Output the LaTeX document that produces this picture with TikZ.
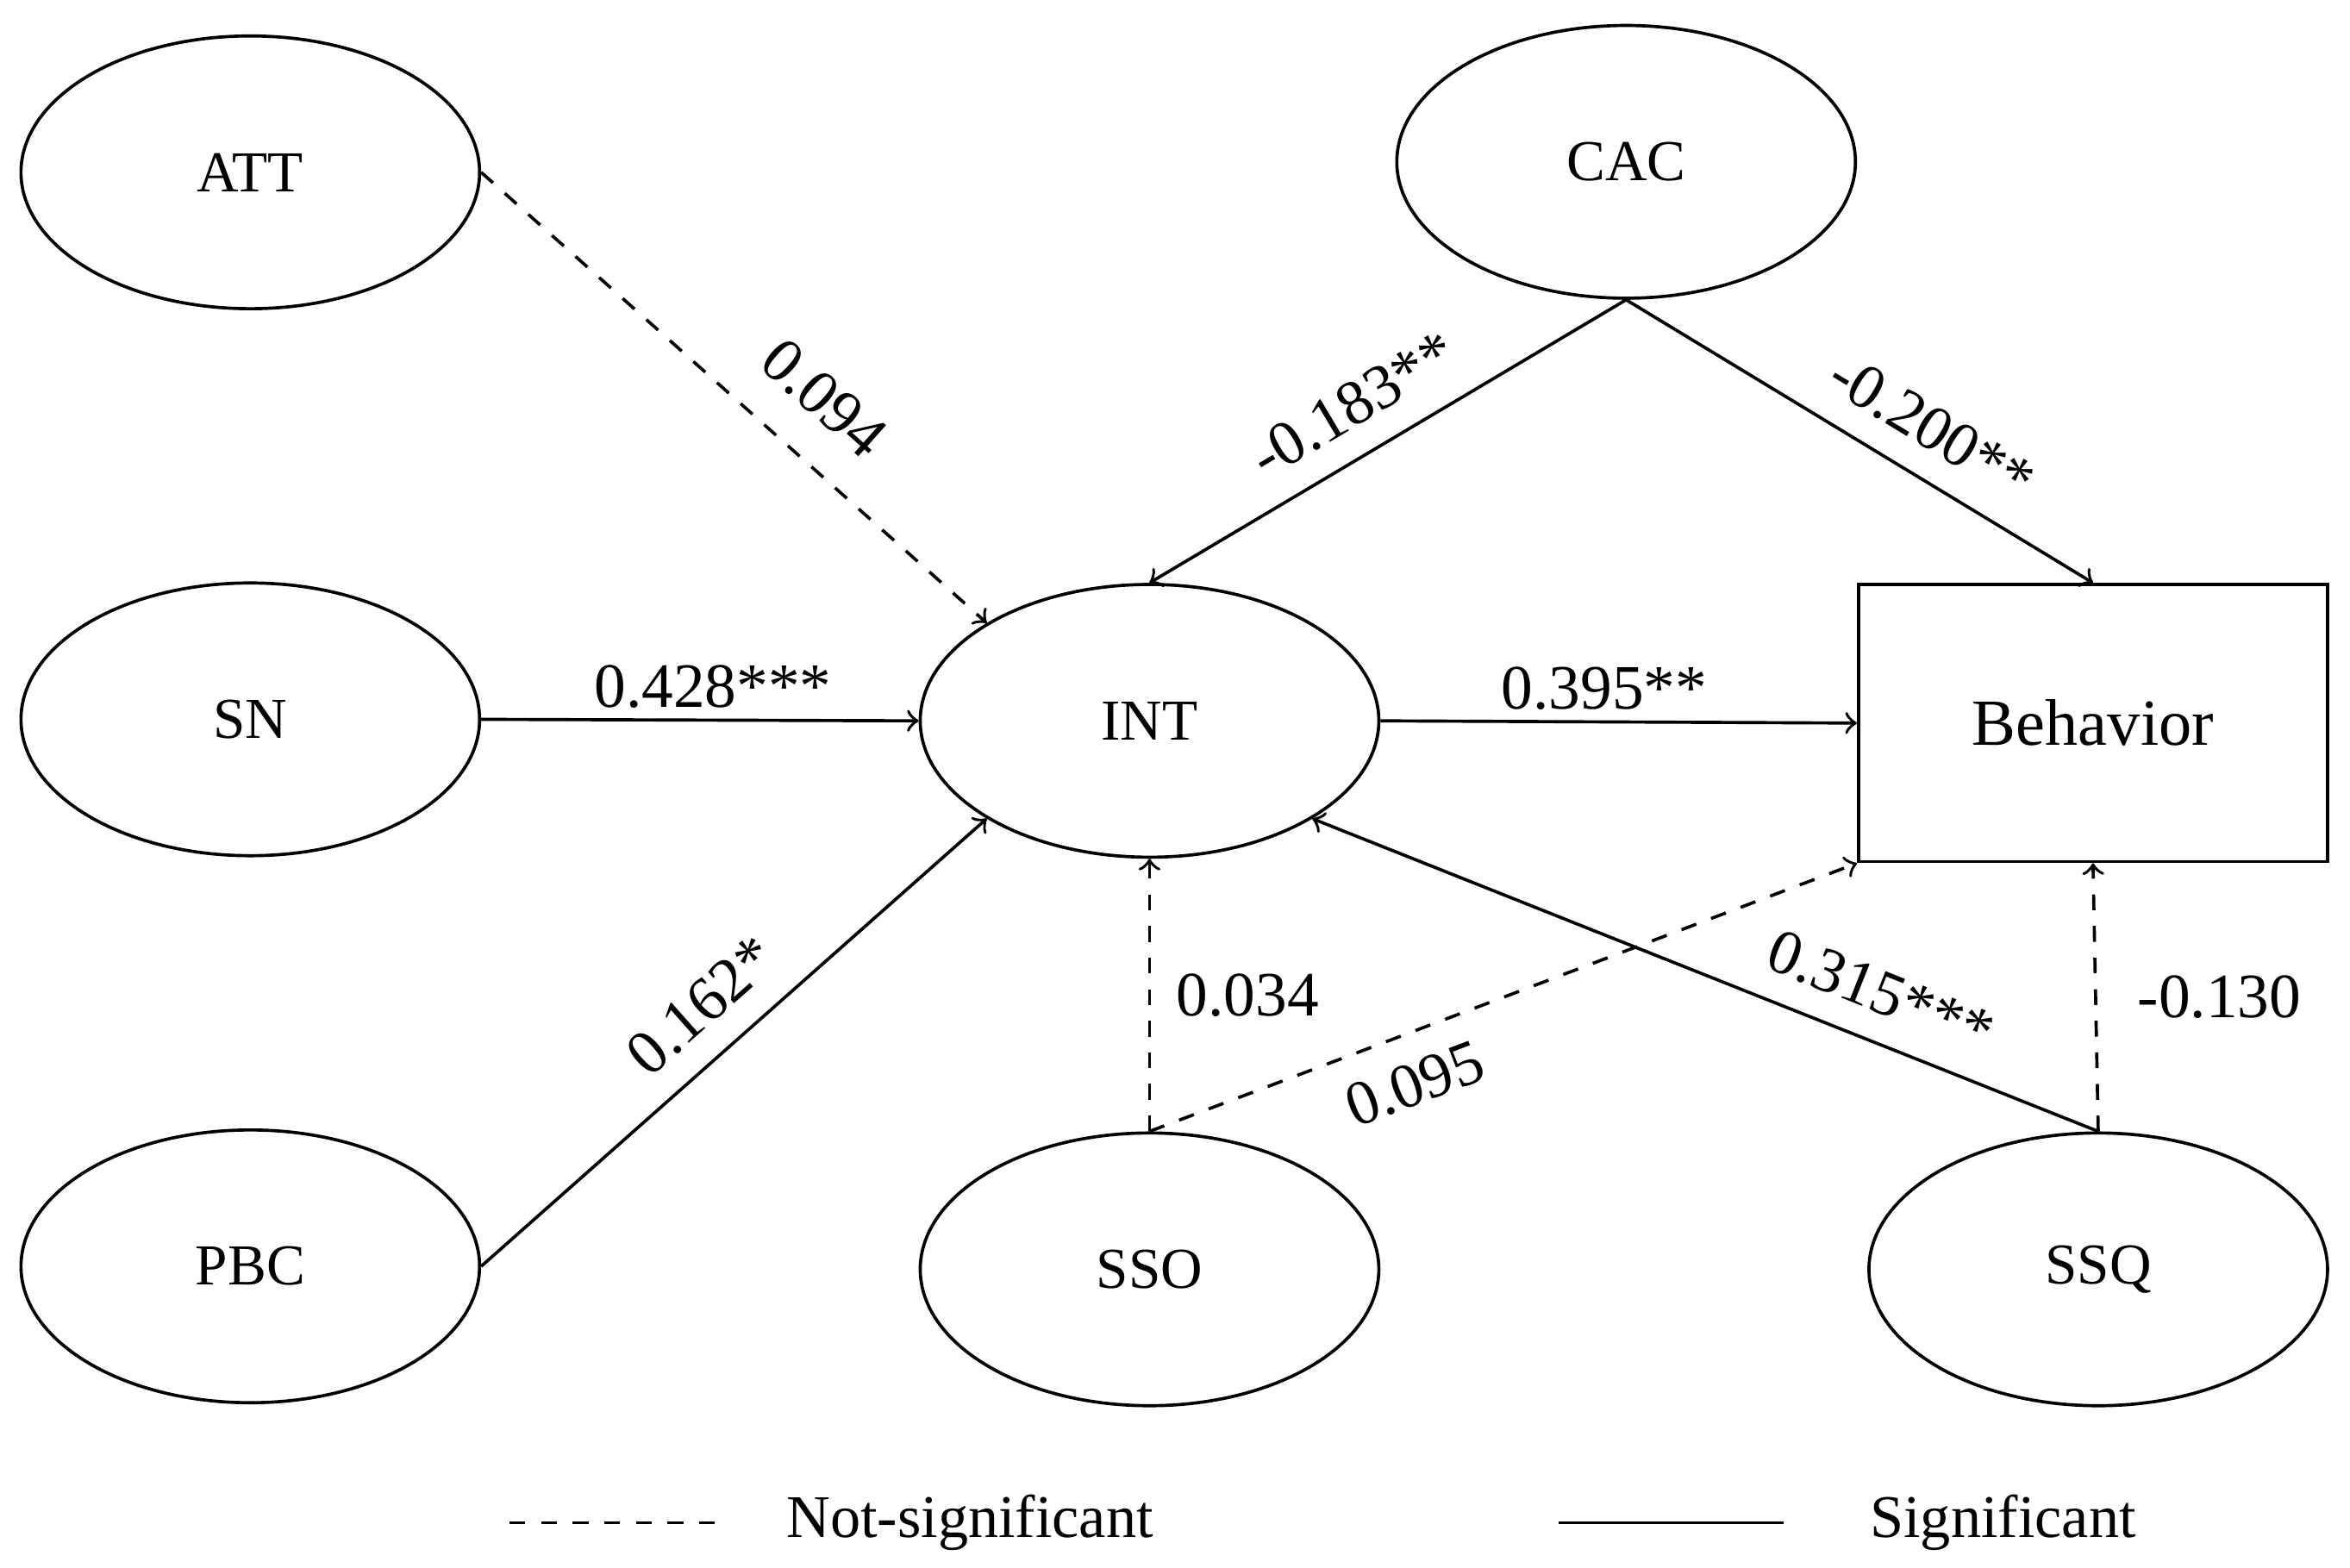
\documentclass[tikz,border=0pt]{standalone}
\usepackage{fontspec}
\setmainfont{Liberation Serif}
\usetikzlibrary{shapes.geometric, arrows, positioning}
\tikzstyle{latent} = [ellipse, draw=black, line width=0.6pt, minimum width=3.06cm, minimum height=1.82cm, font=\fontsize{11}{13}\selectfont]
\tikzstyle{observed} = [rectangle, draw=black, line width=0.6pt, minimum width=3.13cm, minimum height=1.85cm, font=\fontsize{12.5}{15}\selectfont]
\tikzstyle{arrow} = [line width=0.6pt,->,>=to]
\tikzstyle{nsig} = [arrow, dashed]
\tikzstyle{coef} = [font=\fontsize{12}{14}\selectfont, inner sep=2pt]
\begin{document}
\begin{tikzpicture}
	\useasboundingbox (0,0) rectangle (15.68,-10.46);
	\node (ATT) [latent] at (1.67,-1.15) {ATT};
	\node (SN) [latent] at (1.67,-4.80) {SN};
	\node (PBC) [latent] at (1.67,-8.45) {PBC};
	\node (INT) [latent] at (7.67,-4.81) {INT};
	\node (CAC) [latent] at (10.85,-1.08) {CAC};
	\node (SSO) [latent] at (7.67,-8.47) {SSO};
	\node (SSQ) [latent] at (14.00,-8.47) {SSQ};
	\node (Behavior) [observed] at (13.965,-4.825) {Behavior};
	\draw [nsig] (ATT.east) -- node[coef, sloped, above=5pt, pos=0.6]{0.094}(INT.149);
	\draw [arrow] (SN.east) -- node[coef, above, pos=0.53]{0.428***}(INT.west);
	\draw [arrow] (PBC.east) -- node[coef, sloped, above=3pt, pos=0.5]{0.162*}(INT.211);
	\draw [arrow] (CAC.south) -- node[coef, sloped, above=3pt, pos=0.52]{-0.183**}(INT.north);
	\draw [arrow] (CAC.south) -- node[coef, sloped, above=3pt, pos=0.6]{-0.200**}(Behavior.north);
	\draw [arrow] (INT.east) -- node[coef, above, pos=0.47]{0.395**}(Behavior.west);
	\draw [nsig] (SSO.north) -- node[coef, right=0.1cm]{0.034}(INT.south);
	\draw [nsig] (SSO.north) -- node[coef, sloped, below=3pt, pos=0.35]{0.095}(Behavior.south west);
	\draw [arrow] (SSQ.north) -- node[coef, sloped, above=3pt, pos=0.3]{0.315***}(INT.329);
	\draw [nsig] (SSQ.north) -- node[coef, right=0.2cm]{-0.130}(Behavior.south);
	% legend
	\coordinate (NsA) at (3.40,-10.16);
	\coordinate (NsB) at (4.87,-10.16);
	\coordinate (SgA) at (10.40,-10.16);
	\coordinate (SgB) at (11.90,-10.16);
	\draw [line width=0.6pt, dashed] (NsA) -- (NsB) node (NsText) [font=\fontsize{11.5}{13}\selectfont, right=0.25cm] {Not-significant};
	\draw [line width=0.6pt] (SgA) -- (SgB) node (SgText) [font=\fontsize{11.5}{13}\selectfont, right=0.45cm] {Significant};
\end{tikzpicture}
\end{document}
